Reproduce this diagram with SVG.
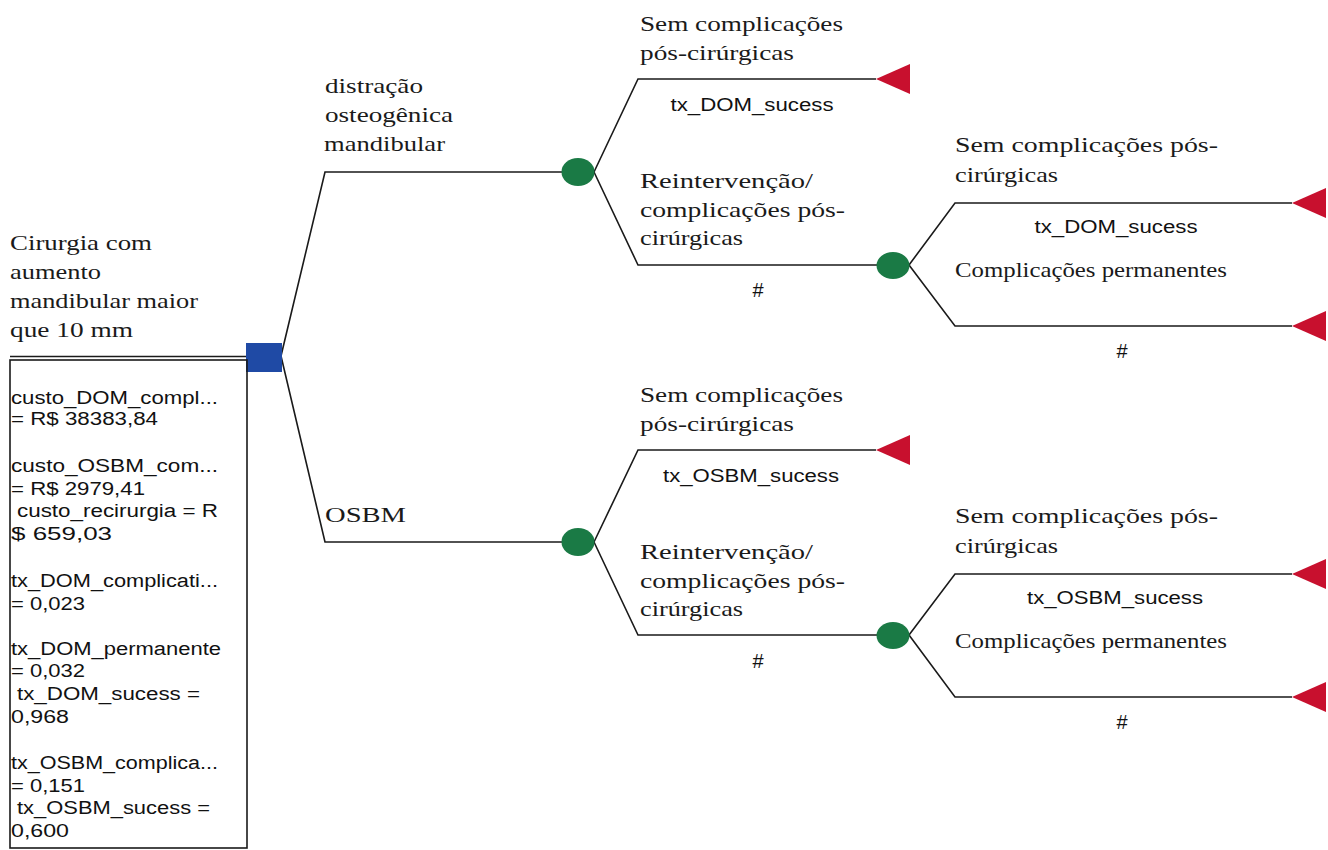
<svg xmlns="http://www.w3.org/2000/svg" width="1328" height="850" viewBox="0 0 1328 850">
<style>
.ln{fill:none;stroke:#1a1a1a;stroke-width:1.6}
.sf{font-family:"Liberation Serif","Times New Roman",serif;font-size:22px;fill:#1a1a1a}
.ss{font-family:"Liberation Sans",Arial,sans-serif;font-size:18px;fill:#111}
.hs{font-family:"Liberation Sans",Arial,sans-serif;font-size:20px;fill:#111;text-anchor:middle}
.sm{text-anchor:middle}
.dec{fill:#1f4aa5}
.ch{fill:#1a7a45}
.tm{fill:#c8102e}
</style>
<rect width="1328" height="850" fill="#ffffff"/>
<g id="connectors">
<path class="ln" d="M10,356.5 H246"/>
<path class="ln" d="M281,356 L325,172 H562"/>
<path class="ln" d="M281,356 L325,542 H562"/>
<path class="ln" d="M594,172 L638,79 H876"/>
<path class="ln" d="M594,172 L638,265 H877"/>
<path class="ln" d="M909,265 L955,203 H1292"/>
<path class="ln" d="M909,265 L955,326 H1292"/>
<path class="ln" d="M594,542 L638,450 H876"/>
<path class="ln" d="M594,542 L638,635 H877"/>
<path class="ln" d="M909,635 L955,574 H1292"/>
<path class="ln" d="M909,635 L955,697 H1292"/>
</g>
<g id="root">
<rect x="246" y="343" width="36" height="29" class="dec"/>
<text class="sf" x="10" y="250" textLength="142" lengthAdjust="spacingAndGlyphs">Cirurgia com</text>
<text class="sf" x="10" y="279" textLength="91" lengthAdjust="spacingAndGlyphs">aumento</text>
<text class="sf" x="10" y="308" textLength="188" lengthAdjust="spacingAndGlyphs">mandibular maior</text>
<text class="sf" x="10" y="337" textLength="123" lengthAdjust="spacingAndGlyphs">que 10 mm</text>
</g>
<g id="variables">
<rect x="10" y="360" width="237" height="488" fill="none" stroke="#1a1a1a" stroke-width="1.6"/>
<text class="ss" x="11" y="403.5" textLength="207" lengthAdjust="spacingAndGlyphs">custo_DOM_compl...</text>
<text class="ss" x="11" y="424.5" textLength="147" lengthAdjust="spacingAndGlyphs">= R$ 38383,84</text>
<text class="ss" x="11" y="471.5" textLength="207" lengthAdjust="spacingAndGlyphs">custo_OSBM_com...</text>
<text class="ss" x="11" y="494.5" textLength="134" lengthAdjust="spacingAndGlyphs">= R$ 2979,41</text>
<text class="ss" x="17" y="516.5" textLength="201" lengthAdjust="spacingAndGlyphs">custo_recirurgia = R</text>
<text class="ss" x="11" y="539.5" textLength="101" lengthAdjust="spacingAndGlyphs">$ 659,03</text>
<text class="ss" x="11" y="586.5" textLength="207" lengthAdjust="spacingAndGlyphs">tx_DOM_complicati...</text>
<text class="ss" x="11" y="609.5" textLength="74" lengthAdjust="spacingAndGlyphs">= 0,023</text>
<text class="ss" x="11" y="654.5" textLength="210" lengthAdjust="spacingAndGlyphs">tx_DOM_permanente</text>
<text class="ss" x="11" y="676.5" textLength="74" lengthAdjust="spacingAndGlyphs">= 0,032</text>
<text class="ss" x="17" y="699.5" textLength="183" lengthAdjust="spacingAndGlyphs">tx_DOM_sucess =</text>
<text class="ss" x="11" y="722.5" textLength="58" lengthAdjust="spacingAndGlyphs">0,968</text>
<text class="ss" x="11" y="768.5" textLength="207" lengthAdjust="spacingAndGlyphs">tx_OSBM_complica...</text>
<text class="ss" x="11" y="791.5" textLength="74" lengthAdjust="spacingAndGlyphs">= 0,151</text>
<text class="ss" x="17" y="813.5" textLength="193" lengthAdjust="spacingAndGlyphs">tx_OSBM_sucess =</text>
<text class="ss" x="11" y="836.5" textLength="58" lengthAdjust="spacingAndGlyphs">0,600</text>
</g>
<g id="dom">
<ellipse cx="578" cy="172" rx="16.5" ry="14" class="ch"/>
<text class="sf" x="325" y="93" textLength="98" lengthAdjust="spacingAndGlyphs">distração</text>
<text class="sf" x="325" y="122" textLength="128" lengthAdjust="spacingAndGlyphs">osteogênica</text>
<text class="sf" x="324" y="151" textLength="121" lengthAdjust="spacingAndGlyphs">mandibular</text>
</g>
<g id="dom-success">
<polygon points="876,79 910,64 910,94" class="tm"/>
<text class="sf" x="640" y="31" textLength="203" lengthAdjust="spacingAndGlyphs">Sem complicações</text>
<text class="sf" x="640" y="60" textLength="154" lengthAdjust="spacingAndGlyphs">pós-cirúrgicas</text>
<text class="ss sm" x="752" y="111" textLength="163" lengthAdjust="spacingAndGlyphs">tx_DOM_sucess</text>
</g>
<g id="dom-reint">
<ellipse cx="893" cy="265.5" rx="16.5" ry="13.5" class="ch"/>
<text class="sf" x="640" y="188" textLength="173" lengthAdjust="spacingAndGlyphs">Reintervenção/</text>
<text class="sf" x="640" y="217" textLength="205" lengthAdjust="spacingAndGlyphs">complicações pós-</text>
<text class="sf" x="640" y="245" textLength="103" lengthAdjust="spacingAndGlyphs">cirúrgicas</text>
<text class="hs" x="758" y="297">#</text>
</g>
<g id="dom-reint-ok">
<polygon points="1292,203 1326,188 1326,218" class="tm"/>
<text class="sf" x="955" y="152" textLength="263" lengthAdjust="spacingAndGlyphs">Sem complicações pós-</text>
<text class="sf" x="955" y="182" textLength="103" lengthAdjust="spacingAndGlyphs">cirúrgicas</text>
<text class="ss sm" x="1116" y="233" textLength="163" lengthAdjust="spacingAndGlyphs">tx_DOM_sucess</text>
</g>
<g id="dom-reint-perm">
<polygon points="1292,326 1326,311 1326,341" class="tm"/>
<text class="sf" x="955" y="277" textLength="272" lengthAdjust="spacingAndGlyphs">Complicações permanentes</text>
<text class="hs" x="1122" y="358">#</text>
</g>
<g id="osbm">
<ellipse cx="578" cy="542" rx="16.5" ry="14" class="ch"/>
<text class="sf" x="325" y="522" textLength="81" lengthAdjust="spacingAndGlyphs">OSBM</text>
</g>
<g id="osbm-success">
<polygon points="876,450 910,435 910,465" class="tm"/>
<text class="sf" x="640" y="402" textLength="203" lengthAdjust="spacingAndGlyphs">Sem complicações</text>
<text class="sf" x="640" y="431" textLength="154" lengthAdjust="spacingAndGlyphs">pós-cirúrgicas</text>
<text class="ss sm" x="751" y="482" textLength="176" lengthAdjust="spacingAndGlyphs">tx_OSBM_sucess</text>
</g>
<g id="osbm-reint">
<ellipse cx="893" cy="635.5" rx="16.5" ry="13.5" class="ch"/>
<text class="sf" x="640" y="559" textLength="173" lengthAdjust="spacingAndGlyphs">Reintervenção/</text>
<text class="sf" x="640" y="588" textLength="205" lengthAdjust="spacingAndGlyphs">complicações pós-</text>
<text class="sf" x="640" y="616" textLength="103" lengthAdjust="spacingAndGlyphs">cirúrgicas</text>
<text class="hs" x="758" y="668">#</text>
</g>
<g id="osbm-reint-ok">
<polygon points="1292,574 1326,559 1326,589" class="tm"/>
<text class="sf" x="955" y="523" textLength="263" lengthAdjust="spacingAndGlyphs">Sem complicações pós-</text>
<text class="sf" x="955" y="553" textLength="103" lengthAdjust="spacingAndGlyphs">cirúrgicas</text>
<text class="ss sm" x="1115" y="604" textLength="176" lengthAdjust="spacingAndGlyphs">tx_OSBM_sucess</text>
</g>
<g id="osbm-reint-perm">
<polygon points="1292,697 1326,682 1326,712" class="tm"/>
<text class="sf" x="955" y="648" textLength="272" lengthAdjust="spacingAndGlyphs">Complicações permanentes</text>
<text class="hs" x="1122" y="729">#</text>
</g>
</svg>
